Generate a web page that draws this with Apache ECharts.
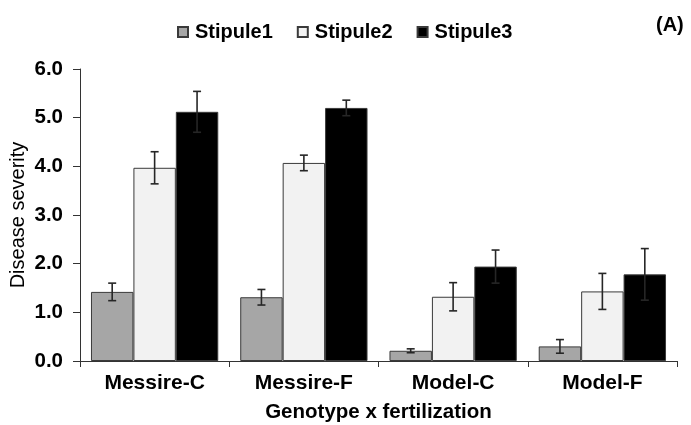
<!DOCTYPE html>
<html><head><meta charset="utf-8">
<script src="https://cdn.jsdelivr.net/npm/echarts@6/dist/echarts.min.js"></script>
<style>html,body{margin:0;padding:0;background:#fff}#c{width:691px;height:425px}</style>
</head><body><div id="c"></div>
<script>
const categories = ['Messire-C', 'Messire-F', 'Model-C', 'Model-F'];
const seriesNames = ['Stipule1', 'Stipule2', 'Stipule3'];
const stipule1 = [1.42, 1.31, 0.21, 0.30];
const stipule2 = [3.97, 4.07, 1.32, 1.43];
const stipule3 = [5.12, 5.20, 1.94, 1.78];
const err1 = [0.18, 0.16, 0.04, 0.14];
const err2 = [0.33, 0.16, 0.29, 0.37];
const err3 = [0.42, 0.16, 0.34, 0.53];
const yTicks = [0, 1, 2, 3, 4, 5, 6];

const colors = ['#a6a6a6', '#f2f2f2', '#000000'];
const values = [stipule1, stipule2, stipule3];
const errs = [err1, err2, err3];
const GAP = 0.147;
const FONT = '"Liberation Sans", Arial, sans-serif';

const chart = echarts.init(document.getElementById('c'), null, {renderer: 'canvas'});
const series = [];
values.forEach((vals, k) => {
  series.push({
    name: seriesNames[k], type: 'bar', data: vals,
    barGap: '0%', barCategoryGap: (GAP * 100) + '%',
    itemStyle: {color: colors[k], borderColor: '#3a3a3a', borderWidth: 1},
    z: 2
  });
});
values.forEach((vals, k) => {
  series.push({
    type: 'custom', name: 'err' + k, z: 5, silent: true,
    data: vals.map((v, i) => [i, v, errs[k][i]]),
    renderItem: function (params, api) {
      const ci = api.value(0), v = api.value(1), e = api.value(2);
      const bandW = api.size([1, 0])[0];
      const barW = bandW * (1 - GAP) / 3;
      const x = api.coord([ci, v])[0] + (k - 1) * barW;
      const yt = api.coord([ci, v + e])[1];
      const yb = api.coord([ci, v - e])[1];
      const cap = 4;
      const st = {stroke: '#262626', lineWidth: 1.6};
      return {type: 'group', children: [
        {type: 'line', shape: {x1: x, y1: yt, x2: x, y2: yb}, style: st},
        {type: 'line', shape: {x1: x - cap, y1: yt, x2: x + cap, y2: yt}, style: st},
        {type: 'line', shape: {x1: x - cap, y1: yb, x2: x + cap, y2: yb}, style: st}
      ]};
    }
  });
});

chart.setOption({
  animation: false,
  backgroundColor: '#ffffff',
  grid: {left: 80, right: 14, top: 69, bottom: 64, containLabel: false, outerBoundsMode: 'none'},
  legend: {
    data: seriesNames, left: 172, top: 17, icon: 'rect', itemWidth: 10, itemHeight: 10,
    itemGap: 24,
    textStyle: {fontFamily: FONT, fontWeight: 'bold', fontSize: 20, color: '#000', padding: [0, 0, 0, 2]}
  },
  graphic: [{type: 'text', left: 656, top: 15,
    style: {text: '(A)', font: 'bold 20px ' + FONT, fill: '#000'}}],
  xAxis: {
    type: 'category', data: categories,
    name: 'Genotype x fertilization', nameLocation: 'middle', nameGap: 41, nameMoveOverlap: false,
    nameTextStyle: {fontFamily: FONT, fontWeight: 'bold', fontSize: 20.5, color: '#000'},
    axisLine: {lineStyle: {color: '#333', width: 1}},
    axisTick: {show: true, length: 6, lineStyle: {color: '#333'}},
    axisLabel: {fontFamily: FONT, fontWeight: 'bold', fontSize: 21, color: '#000', margin: 12}
  },
  yAxis: {
    type: 'value', min: yTicks[0], max: yTicks[yTicks.length - 1], interval: 1,
    name: 'Disease severity', nameLocation: 'middle', nameGap: 52, nameMoveOverlap: false,
    nameTextStyle: {fontFamily: FONT, fontSize: 20, color: '#000'},
    axisLine: {show: true, lineStyle: {color: '#333', width: 1}},
    axisTick: {show: true, length: 7, lineStyle: {color: '#333'}},
    splitLine: {show: false},
    axisLabel: {fontFamily: FONT, fontWeight: 'bold', fontSize: 20.5, color: '#000', margin: 17,
      formatter: v => v.toFixed(1)}
  },
  series: series
});
</script></body></html>
